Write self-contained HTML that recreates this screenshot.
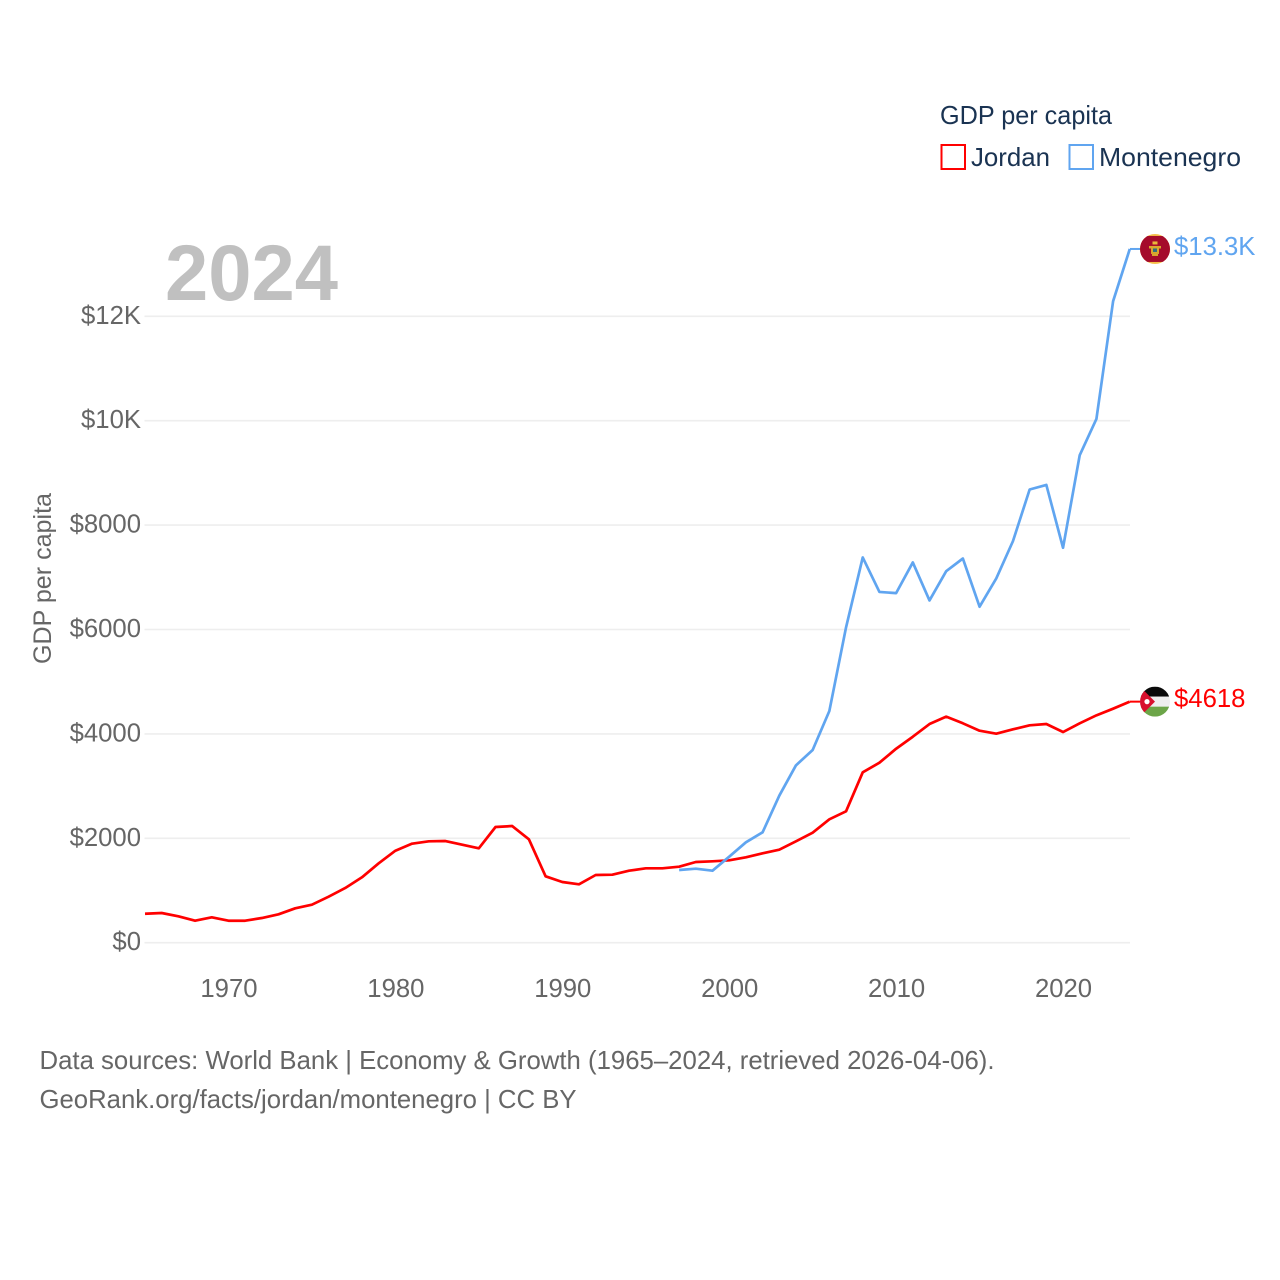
<!DOCTYPE html>
<html lang="en">
<head>
<meta charset="utf-8">
<title>GDP per capita: Jordan and Montenegro</title>
<style>
html,body{margin:0;padding:0;background:#fff}
svg{display:block}
text{font-family:"Liberation Sans",sans-serif}
</style>
</head>
<body>
<svg id="chart" width="1280" height="1280" viewBox="0 0 1280 1280" xmlns="http://www.w3.org/2000/svg">
  <defs>
    <clipPath id="flag-clip"><circle cx="0" cy="0" r="15"/></clipPath>
  </defs>
  <g id="grid"></g>
  <g id="y-ticks"></g>
  <g id="x-ticks"></g>
  <text x="165" y="300" font-size="79" font-weight="700" fill="#c0c0c0" textLength="173" lengthAdjust="spacingAndGlyphs">2024</text>
  <text transform="translate(51,664) rotate(-90)" font-size="25" fill="#666666" textLength="171" lengthAdjust="spacingAndGlyphs">GDP per capita</text>
  <g id="series"></g>

  <g>
    <text x="940" y="124" font-size="26" fill="#1a3352" textLength="172" lengthAdjust="spacingAndGlyphs">GDP per capita</text>
    <g>
      <rect x="941.5" y="145" width="23.5" height="24" fill="#fff" stroke="#ff0000" stroke-width="2"/>
      <text x="971" y="166" font-size="26" fill="#1a3352" textLength="79" lengthAdjust="spacingAndGlyphs">Jordan</text>
    </g>
    <g>
      <rect x="1069.5" y="145" width="23.5" height="24" fill="#fff" stroke="#60a5f0" stroke-width="2"/>
      <text x="1099" y="166" font-size="26" fill="#1a3352" textLength="142" lengthAdjust="spacingAndGlyphs">Montenegro</text>
    </g>
  </g>

  <g id="flag-montenegro">
    <g clip-path="url(#flag-clip)">
      <rect x="-15" y="-15" width="30" height="30" fill="#f5c04a"/>
      <rect x="-15" y="-13" width="30" height="26" fill="#a50b2b"/>
      <rect x="-2.5" y="-7.5" width="5" height="3" fill="#e8b93a"/>
      <rect x="-6" y="-3" width="12" height="2.5" fill="#d9a82e"/>
      <rect x="-4" y="-1" width="8" height="6" fill="#d9a82e"/>
      <rect x="-2" y="-0.5" width="4" height="3.5" fill="#2f6f80"/>
      <rect x="-3" y="5" width="6" height="2" fill="#d9a82e"/>
    </g>
  </g>
  <g id="flag-jordan">
    <g clip-path="url(#flag-clip)">
      <rect x="-15" y="-15" width="30" height="10" fill="#0a0a0a"/>
      <rect x="-15" y="-5" width="30" height="10" fill="#eeeeee"/>
      <rect x="-15" y="5" width="30" height="10" fill="#6ca548"/>
      <polygon points="-15,-15 0,0 -15,15" fill="#d8102e"/>
      <circle cx="-8" cy="0" r="2.6" fill="#ffffff"/>
    </g>
  </g>
  <g id="end-labels"></g>

  <g>
    <text x="39.5" y="1069" font-size="26" fill="#666666" textLength="955" lengthAdjust="spacingAndGlyphs">Data sources: World Bank | Economy &amp; Growth (1965–2024, retrieved 2026-04-06).</text>
    <text x="39.5" y="1108" font-size="26" fill="#666666" textLength="537" lengthAdjust="spacingAndGlyphs">GeoRank.org/facts/jordan/montenegro | CC BY</text>
  </g>
</svg>
<script>
const jordanStartYear = 1965;
const jordanValues = [555,569,505,421,486,421,421,473,544,659,728,881,1048,1253,1521,1762,1897,1942,1948,1877,1808,2216,2235,1981,1272,1163,1119,1297,1303,1379,1425,1425,1456,1546,1559,1578,1636,1712,1782,1942,2107,2364,2517,3264,3448,3716,3946,4189,4330,4203,4061,4004,4088,4165,4189,4036,4203,4356,4483,4618];
const montenegroStartYear = 1997;
const montenegroValues = [1393,1418,1379,1648,1923,2115,2816,3398,3692,4439,6040,7380,6720,6697,7285,6557,7117,7360,6437,6978,7693,8682,8770,7566,9340,10033,12290,13290];
const yTickValues = [0,2000,4000,6000,8000,10000,12000];
const yTickLabels = ["$0","$2000","$4000","$6000","$8000","$10K","$12K"];
const xTickValues = [1970,1980,1990,2000,2010,2020];
const jordanEndLabel = "$4618";
const montenegroEndLabel = "$13.3K";

const NS = "http://www.w3.org/2000/svg";
const xScale = year => 145 + (year - 1965) * (1129.8 - 145) / (2024 - 1965);
const yScale = value => 942.7 - value * 0.0522;

function makeEl(tag, parentId, props, content) {
  const el = document.createElementNS(NS, tag);
  Object.keys(props).forEach(k => el.setAttribute(k, props[k]));
  if (content !== undefined) el.textContent = content;
  document.getElementById(parentId).appendChild(el);
  return el;
}

yTickValues.forEach((v, i) => {
  const line = makeEl("line", "grid", {x1: 144.5, x2: 1130, y1: yScale(v), y2: yScale(v), stroke: "#eeeeee", "stroke-width": 1.6});
  
  
  const label = makeEl("text", "y-ticks", {x: 141, y: yScale(v) + 7.5, "text-anchor": "end", "font-size": 25.7, fill: "#666666"}, yTickLabels[i]);
  
  
});

xTickValues.forEach(year => {
  const label = makeEl("text", "x-ticks", {x: xScale(year) + 0.5, y: 997, "text-anchor": "middle", "font-size": 25.7, fill: "#666666"}, String(year));
  
  
});

function linePoints(startYear, values) {
  return values.map((v, i) => xScale(startYear + i).toFixed(2) + "," + yScale(v).toFixed(2)).join(" ");
}

const jordanLine = makeEl("polyline", "series", {points: linePoints(jordanStartYear, jordanValues), fill: "none", stroke: "#ff0000", "stroke-width": 2.7, "stroke-linejoin": "round"});



const montenegroLine = makeEl("polyline", "series", {points: linePoints(montenegroStartYear, montenegroValues), fill: "none", stroke: "#60a5f0", "stroke-width": 2.7, "stroke-linejoin": "round"});



const jordanLast = jordanValues[jordanValues.length - 1];
const montenegroLast = montenegroValues[montenegroValues.length - 1];

const jordanLeader = makeEl("line", "series", {x1: 1130, x2: 1141, y1: yScale(jordanLast), y2: yScale(jordanLast), stroke: "#ff0000", "stroke-width": 2});



const montenegroLeader = makeEl("line", "series", {x1: 1130, x2: 1141, y1: yScale(montenegroLast), y2: yScale(montenegroLast), stroke: "#60a5f0", "stroke-width": 2});



document.getElementById("flag-jordan").setAttribute("transform", "translate(1155," + yScale(jordanLast) + ")");
document.getElementById("flag-montenegro").setAttribute("transform", "translate(1155," + yScale(montenegroLast) + ")");

const jordanValueLabel = makeEl("text", "end-labels", {x: 1174, y: yScale(jordanLast) + 5.5, "font-size": 25.7, fill: "#ff0000"}, jordanEndLabel);



const montenegroValueLabel = makeEl("text", "end-labels", {x: 1174, y: yScale(montenegroLast) + 6, "font-size": 25.7, fill: "#60a5f0"}, montenegroEndLabel);


</script>
</body>
</html>
